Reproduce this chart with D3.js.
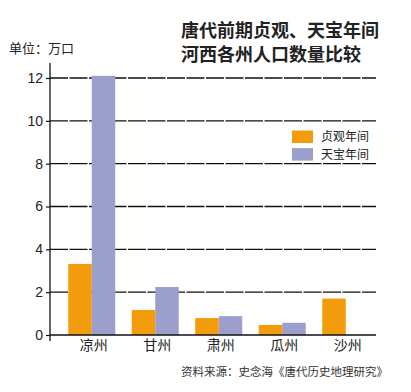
<!DOCTYPE html>
<html><head><meta charset="utf-8">
<script src="https://cdn.jsdelivr.net/npm/d3@7"></script>
<style>body{margin:0;background:#fff;}svg{display:block;font-family:"Noto Sans CJK SC","Noto Sans",sans-serif;}</style>
</head><body>
<script>
const categories = ["凉州","甘州","肃州","瓜州","沙州"];
const zhenguan = [3.32, 1.17, 0.79, 0.47, 1.70];
const tianbao = [12.1, 2.24, 0.88, 0.57, null];
const seriesNames = ["贞观年间","天宝年间"];
const seriesColors = ["#F39C0B","#9C9FCB"];
const yTicks = [0,2,4,6,8,10,12];
const titleLines = ["唐代前期贞观、天宝年间","河西各州人口数量比较"];
const unitLabel = "单位：万口";
const sourceLabel = "资料来源：史念海《唐代历史地理研究》";

const W = 411, H = 392;
const svg = d3.select("body").append("svg").attr("width", W).attr("height", H);

const y = d3.scaleLinear().domain([0, 12]).range([335, 78]);
const x = d3.scaleBand().domain(categories).range([60, 377.5]).paddingInner(0.26).paddingOuter(0.13);
const xs = d3.scaleBand().domain([0,1]).range([0, x.bandwidth()]);

// gridlines
svg.append("g").selectAll("line").data(yTicks.filter(d => d > 0)).join("line")
  .attr("x1", 50).attr("x2", 376).attr("y1", d => y(d)).attr("y2", d => y(d))
  .attr("stroke", "#111").attr("stroke-width", 1.3).attr("stroke-dasharray", "18,1.5");

// bars
const series = [zhenguan, tianbao];
series.forEach((vals, si) => {
  svg.append("g").selectAll("rect").data(categories.map((c, i) => ({c, v: vals[i]})).filter(d => d.v != null)).join("rect")
    .attr("x", d => x(d.c) + xs(si))
    .attr("width", xs.bandwidth())
    .attr("y", d => y(d.v))
    .attr("height", d => y(0) - y(d.v))
    .attr("fill", seriesColors[si]);
});

// baseline
svg.append("line").attr("x1", 50).attr("x2", 376).attr("y1", y(0)).attr("y2", y(0))
  .attr("stroke", "#111").attr("stroke-width", 1.3);

// y axis
const yAxis = d3.axisLeft(y).tickValues(yTicks).tickSize(4).tickPadding(3);
const ga = svg.append("g").attr("transform", "translate(50,0)").call(yAxis);
ga.select(".domain").remove();
ga.selectAll(".tick line").attr("stroke", "#111").attr("stroke-width", 1.2);
ga.selectAll(".tick text").attr("font-size", 14).attr("fill", "#222").attr("font-family", "'Liberation Sans','DejaVu Sans',sans-serif");
svg.append("line").attr("x1", 50).attr("x2", 50).attr("y1", 63).attr("y2", 341)
  .attr("stroke", "#111").attr("stroke-width", 1.3);

// x labels
svg.append("g").selectAll("text").data(categories).join("text")
  .attr("x", d => x(d) + x.bandwidth() / 2 + 2)
  .attr("y", 350)
  .attr("text-anchor", "middle")
  .attr("font-size", 14).attr("fill", "#222")
  .text(d => d);

// title
svg.append("g").selectAll("text").data(titleLines).join("text")
  .attr("x", 181).attr("y", (d, i) => 37 + i * 24)
  .attr("font-size", 18).attr("font-weight", "bold").attr("fill", "#222")
  .text(d => d);

// unit
svg.append("text").attr("x", 9).attr("y", 53).attr("font-size", 13).attr("fill", "#222").text(unitLabel);

// legend
const lg = svg.append("g");
seriesNames.forEach((n, i) => {
  lg.append("rect").attr("x", 292).attr("y", 130.5 + i * 17.6).attr("width", 21).attr("height", 12.5).attr("fill", seriesColors[i]);
  lg.append("text").attr("x", 321).attr("y", 141 + i * 17.6).attr("font-size", 12).attr("fill", "#222").text(n);
});

// source
svg.append("text").attr("x", 181).attr("y", 376).attr("font-size", 11.5).attr("fill", "#333").text(sourceLabel);
</script>
</body></html>
